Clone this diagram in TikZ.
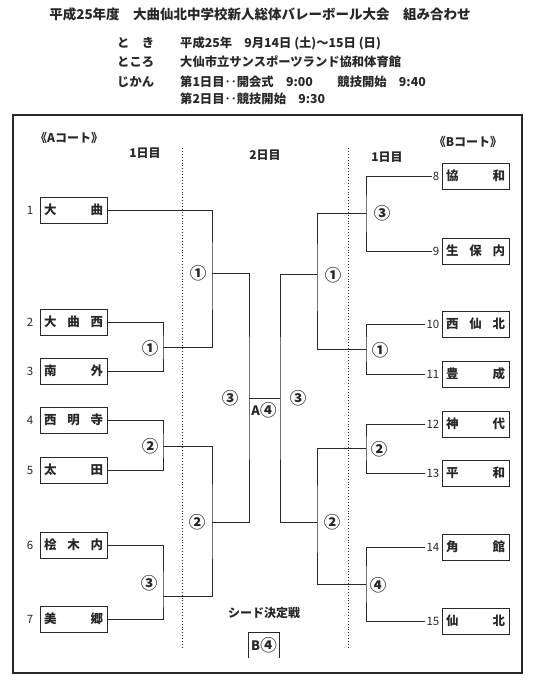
\documentclass[tikz,border=0pt]{standalone}
\usepackage{fontspec}
\setmainfont{Noto Sans CJK JP}
\usepackage{tikz}
\usetikzlibrary{positioning}
\definecolor{inkgray}{RGB}{40,40,40}
\newcommand\tname[1]{\hbox to 59pt{#1}}

\begin{document}
\begin{tikzpicture}[
    x=1pt, y=-1pt,
    every node/.style={text=inkgray},
    team/.style={draw=inkgray, line width=1pt, minimum width=67pt, minimum height=26pt, inner xsep=4pt, inner ysep=0pt, font=\fontsize{12.5}{14}\selectfont\bfseries},
    num/.style={inner sep=1pt, font=\fontsize{11.5}{13}\selectfont},
    rnd/.style={inner sep=0pt, font=\fontsize{16.5}{17}\selectfont\bfseries},
    head/.style={inner sep=0pt, font=\fontsize{12}{14}\selectfont\bfseries},
    info/.style={anchor=west, inner sep=0pt, font=\fontsize{12.3}{14}\selectfont\bfseries},
    line/.style={draw=inkgray, line width=1pt}
]
\useasboundingbox (0,0) rectangle (540,688);

\node[head, font=\fontsize{13.5}{15}\selectfont\bfseries] (title) at (260,14) {平成25年度　大曲仙北中学校新人総体バレーボール大会　組み合わせ};
\node[info] (toki) at (117,43) {と　き};
\node[info] (tokoro) at (117,62) {ところ};
\node[info] (jikan) at (117,82) {じかん};
\node[info] (date) at (180,43) {平成25年　9月14日 (土)～15日 (日)};
\node[info] (place) at (180,62) {大仙市立サンスポーツランド協和体育館};
\node[info] (day1) at (180,82) {第1日目‥開会式　9:00　　競技開始　9:40};
\node[info] (day2) at (180,99) {第2日目‥競技開始　9:30};

\draw[draw=inkgray, line width=1.3pt] (13,115) rectangle (522,673);
\draw[draw=inkgray, dotted, line width=0.9pt] (182,148) -- (182,647);
\draw[draw=inkgray, dotted, line width=0.9pt] (348,148) -- (348,647);

\node[head, anchor=west] (courtA) at (35,138) {《Aコート》};
\node[head] (courtB) at (468,142) {《Bコート》};
\node[head] (hA1) at (145,153) {1日目};
\node[head] (h2) at (265,155) {2日目};
\node[head] (hB1) at (387,157) {1日目};

\node[team] (t1) at (73.5,210) {\tname{大\hfill 曲}};
\node[team] (t2) at (73.5,322) {\tname{大\hfill 曲\hfill 西}};
\node[team] (t3) at (73.5,371) {\tname{南\hfill 外}};
\node[team] (t4) at (73.5,420) {\tname{西\hfill 明\hfill 寺}};
\node[team] (t5) at (73.5,470) {\tname{太\hfill 田}};
\node[team] (t6) at (73.5,545) {\tname{桧\hfill 木\hfill 内}};
\node[team] (t7) at (73.5,619) {\tname{美\hfill 郷}};
\node[num, left=5pt of t1] (n1) {1};
\node[num, left=5pt of t2] (n2) {2};
\node[num, left=5pt of t3] (n3) {3};
\node[num, left=5pt of t4] (n4) {4};
\node[num, left=5pt of t5] (n5) {5};
\node[num, left=5pt of t6] (n6) {6};
\node[num, left=5pt of t7] (n7) {7};

\node[team] (t8) at (475.5,176) {\tname{協\hfill 和}};
\node[team] (t9) at (475.5,251) {\tname{生\hfill 保\hfill 内}};
\node[team] (t10) at (475.5,324) {\tname{西\hfill 仙\hfill 北}};
\node[team] (t11) at (475.5,374) {\tname{豊\hfill 成}};
\node[team] (t12) at (475.5,424) {\tname{神\hfill 代}};
\node[team] (t13) at (475.5,473) {\tname{平\hfill 和}};
\node[team] (t14) at (475.5,547) {\tname{角\hfill 館}};
\node[team] (t15) at (475.5,621) {\tname{仙\hfill 北}};
\node[num, left=1pt of t8] (n8) {8};
\node[num, left=1pt of t9] (n9) {9};
\node[num, left=1pt of t10] (n10) {10};
\node[num, left=1pt of t11] (n11) {11};
\node[num, left=1pt of t12] (n12) {12};
\node[num, left=1pt of t13] (n13) {13};
\node[num, left=1pt of t14] (n14) {14};
\node[num, left=1pt of t15] (n15) {15};

\coordinate (a1) at (163,347);
\coordinate (a2) at (163,446);
\coordinate (a3) at (163,596);
\coordinate (qa1) at (212,273);
\coordinate (qa2) at (212,522);
\coordinate (sa) at (249,398);
\coordinate (sb) at (280,398);
\coordinate (qb1) at (317,274);
\coordinate (qb2) at (317,522);
\coordinate (b3) at (366,213);
\coordinate (b1) at (366,349);
\coordinate (b2) at (366,448);
\coordinate (b4) at (366,584);

\draw[line] (t2.east) -| (a1) |- (t3.east);
\draw[line] (t4.east) -| (a2) |- (t5.east);
\draw[line] (t6.east) -| (a3) |- (t7.east);
\draw[line] (t1.east) -| (qa1) |- (a1);
\draw[line] (a2) -| (qa2) |- (a3);
\draw[line] (qa1) -| (sa) |- (qa2);
\draw[line] (sa) -- (sb);
\draw[line] (n8.west) -| (b3) |- (n9.west);
\draw[line] (n10.west) -| (b1) |- (n11.west);
\draw[line] (n12.west) -| (b2) |- (n13.west);
\draw[line] (n14.west) -| (b4) |- (n15.west);
\draw[line] (b3) -| (qb1) |- (b1);
\draw[line] (b2) -| (qb2) |- (b4);
\draw[line] (qb1) -| (sb) |- (qb2);

\node[rnd] (ra1) at (150,348) {①};
\node[rnd] (ra2) at (150,446) {②};
\node[rnd] (ra3) at (149,583) {③};
\node[rnd] (rqa1) at (198,273) {①};
\node[rnd] (rqa2) at (197,522) {②};
\node[rnd] (rsa) at (230,398) {③};
\node[rnd] (fin) at (264,410) {\raisebox{1pt}{\fontsize{13}{14}\selectfont A}④};
\node[rnd] (rsb) at (298,398) {③};
\node[rnd] (rqb1) at (333,275) {①};
\node[rnd] (rqb2) at (332,522) {②};
\node[rnd] (rb3) at (382,213) {③};
\node[rnd] (rb1) at (380,350) {①};
\node[rnd] (rb2) at (379,449) {②};
\node[rnd] (rb4) at (378,585) {④};

\node[head] (seed) at (264,613) {シード決定戦};
\node[rnd] (seedB) at (264,645) {\raisebox{1pt}{\fontsize{13}{14}\selectfont B}④};
\draw[line] (248,658) |- (279,632) -- (279,658);
\end{tikzpicture}
\end{document}
